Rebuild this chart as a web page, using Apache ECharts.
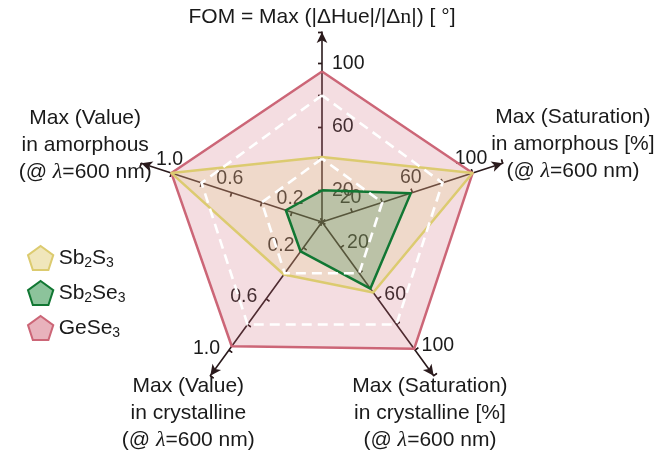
<!DOCTYPE html>
<html><head><meta charset="utf-8">
<script src="https://cdn.jsdelivr.net/npm/echarts@6/dist/echarts.min.js"></script>
<style>html,body{margin:0;padding:0;background:#fff}#c{width:660px;height:451px}</style>
</head><body><div id="c"></div>
<script>
// ---- data ----
const indicatorNames = [
  'FOM = Max (|ΔHue|/|Δ{s|n}|) [ °]',
  'Max (Value)\nin amorphous\n(@ {l|λ}=600 nm)',
  'Max (Value)\nin crystalline\n(@ {l|λ}=600 nm)',
  'Max (Saturation)\nin crystalline [%]\n(@ {l|λ}=600 nm)',
  'Max (Saturation)\nin amorphous [%]\n(@ {l|λ}=600 nm)'
];
const indicatorMax = [120, 1.2, 1.2, 120, 120];
const seriesNames = ['Sb2S3', 'Sb2Se3', 'GeSe3'];
const sb2s3 = [41, 1.0, 0.41, 55, 100];
const sb2se3 = [20, 0.24, 0.23, 52, 59];
const gese3 = [95, 1.0, 0.97, 99, 100];
const pctTicks = [20, 60, 100];
const valTicks = [0.2, 0.6, 1.0];

const axisColor = '#2a1a1c';
const textColor = '#1a1a1a';
const font = 'Liberation Sans';

function fmt(isVal) {
  return function (v) {
    if (isVal) {
      for (const t of valTicks) if (Math.abs(v - t) < 1e-6) return t.toFixed(1);
      return '';
    }
    for (const t of pctTicks) if (Math.abs(v - t) < 1e-6) return String(t);
    return '';
  };
}
const isValAxis = [false, true, true, false, false];
const nameGaps = [15, 59, 36, 27, 73];
const namePads = [0, 0, [15, 0, 0, 0], [17, 49, 0, 0], [7, 0, 0, 0]];
const labelLayouts = [
  { margin: -10, align: 'left', verticalAlign: 'middle' },
  { margin: -4, align: 'center', verticalAlign: 'bottom', padding: [0, 6, 0, 0] },
  { margin: -11, align: 'right', verticalAlign: 'top', lineHeight: 9 },
  { margin: 8, align: 'left', verticalAlign: 'middle' },
  { margin: 5, align: 'center', verticalAlign: 'bottom' }
];

const indicators0 = indicatorNames.map((n, i) => ({
  name: n, min: 0, max: indicatorMax[i], nameGap: nameGaps[i],
  nameTextStyle: { align: 'center', verticalAlign: 'middle', padding: namePads[i] },
  axisLabel: Object.assign({ formatter: fmt(isValAxis[i]) }, labelLayouts[i])
}));
const indicatorsPlain = indicatorNames.map((n, i) => ({ name: n, min: 0, max: indicatorMax[i] }));

const common = { center: [322, 222], radius: 190, startAngle: 90, splitNumber: 6, shape: 'polygon' };

const pent = 'path://M12,0 L24,8.7 L19.4,22.8 L4.6,22.8 L0,8.7 Z';

const option = {
  animation: false,
  backgroundColor: '#fff',
  legend: {
    orient: 'vertical', left: 22, top: 240, itemWidth: 26, itemHeight: 24, itemGap: 9,
    selectedMode: false,
    data: [
      { name: 'Sb2S3', icon: pent, itemStyle: { color: '#f0e6bb', borderColor: '#dccb6f', borderWidth: 2 } },
      { name: 'Sb2Se3', icon: pent, itemStyle: { color: '#8cc39b', borderColor: '#117733', borderWidth: 2 } },
      { name: 'GeSe3', icon: pent, itemStyle: { color: '#e8b2bc', borderColor: '#cc6677', borderWidth: 2 } }
    ],
    formatter: n => n.replace(/(\d)/g, '{s|$1}'),
    textStyle: {
      fontFamily: font, fontSize: 21, color: textColor, lineHeight: 24,
      rich: { s: { fontFamily: font, fontSize: 14, lineHeight: 14, verticalAlign: 'bottom', color: textColor } }
    }
  },
  radar: [
    Object.assign({}, common, {
      z: 1,
      indicator: indicators0,
      axisName: {
        color: textColor, fontFamily: font, fontSize: 21, lineHeight: 27,
        rich: {
          s: { fontFamily: 'Liberation Serif', fontSize: 22, color: textColor },
          l: { fontFamily: 'Liberation Serif', fontStyle: 'italic', fontSize: 22, color: textColor }
        }
      },
      axisLine: { show: true, symbol: ['none', 'arrow'], symbolSize: [8, 11], lineStyle: { color: axisColor, width: 1.6 } },
      axisTick: { show: true, length: 4, lineStyle: { color: axisColor, width: 1.4 } },
      axisLabel: { show: true, fontFamily: font, fontSize: 19.5, color: textColor },
      splitLine: { show: false }, splitArea: { show: false }
    }),
    Object.assign({}, common, {
      z: 1,
      indicator: indicatorsPlain,
      axisName: { show: false },
      axisLine: { show: false },
      axisTick: { show: true, inside: true, length: 4, lineStyle: { color: axisColor, width: 1.4 } },
      axisLabel: { show: false },
      splitLine: { show: false }, splitArea: { show: false }
    }),
    Object.assign({}, common, {
      z: 10,
      indicator: indicatorsPlain,
      axisName: { show: false },
      axisLine: { show: false }, axisTick: { show: false }, axisLabel: { show: false },
      splitArea: { show: false },
      splitLine: { show: true, lineStyle: {
        color: ['rgba(0,0,0,0)', 'rgba(0,0,0,0)', '#ffffff', 'rgba(0,0,0,0)', '#ffffff', 'rgba(0,0,0,0)', 'rgba(0,0,0,0)'],
        width: 2.6, type: [10, 6] } }
    })
  ],
  series: [
    { type: 'radar', name: 'GeSe3', radarIndex: 0, z: 2, symbol: 'none', silent: true,
      itemStyle: { color: '#cc6677' },
      lineStyle: { color: '#cc6677', width: 2.5 }, areaStyle: { color: 'rgba(204,102,119,0.32)' },
      data: [{ name: 'GeSe3', value: gese3 }] },
    { type: 'radar', name: 'Sb2S3', radarIndex: 0, z: 2, symbol: 'none', silent: true,
      itemStyle: { color: '#dccb6f' },
      lineStyle: { color: '#dccb6f', width: 2.5 }, areaStyle: { color: 'rgba(221,204,119,0.3)' },
      data: [{ name: 'Sb2S3', value: sb2s3 }] },
    { type: 'radar', name: 'Sb2Se3', radarIndex: 0, z: 2, symbol: 'none', silent: true,
      itemStyle: { color: '#117733' },
      lineStyle: { color: '#117733', width: 2.5 }, areaStyle: { color: 'rgba(17,119,51,0.33)' },
      data: [{ name: 'Sb2Se3', value: sb2se3 }] }
  ]
};
const chart = echarts.init(document.getElementById('c'), null, { renderer: 'canvas' });
chart.setOption(option);
</script></body></html>
